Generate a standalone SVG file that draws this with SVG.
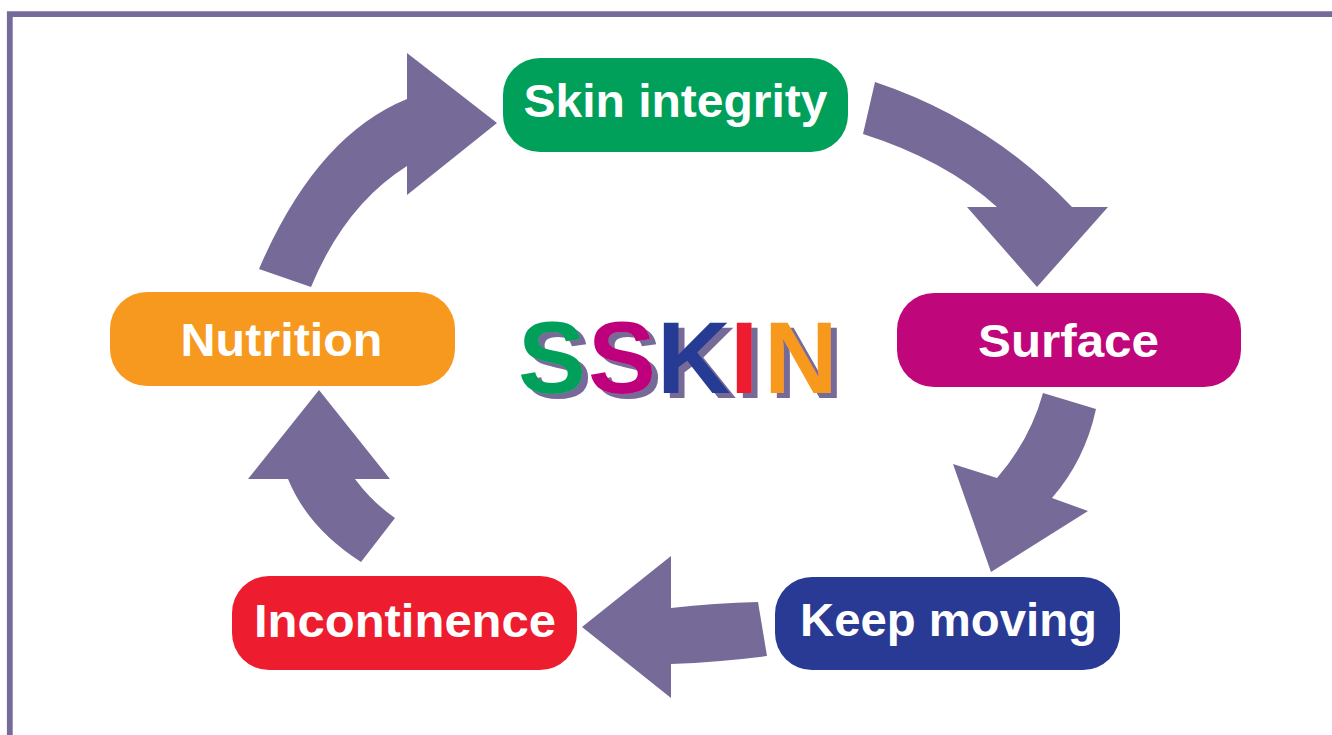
<svg xmlns="http://www.w3.org/2000/svg" width="1332" height="735" viewBox="0 0 1332 735">
  <defs>
    <filter id="logo-shadow" x="-20%" y="-20%" width="140%" height="140%">
      <feFlood flood-color="#766a98" result="c"/>
      <feComposite in="c" in2="SourceAlpha" operator="in" result="s"/>
      <feOffset in="s" dx="6" dy="5" result="o"/>
      <feMerge>
        <feMergeNode in="o"/>
        <feMergeNode in="SourceGraphic"/>
      </feMerge>
    </filter>
  </defs>
  <style>
    .box-text { font-family: "Liberation Sans", Arial, sans-serif; font-weight: bold; font-size: 46px; fill: #ffffff; text-anchor: middle; }
    .arrow { fill: #766a98; }
    .logo { font-family: "Liberation Sans", Arial, sans-serif; font-weight: bold; font-size: 102px; }
  </style>
  <rect x="0" y="0" width="1332" height="735" fill="#ffffff"/>
  <path d="M9.8,735 V14.2 H1332" fill="none" stroke="#766a98" stroke-width="5.8"/>

  <g id="connectors">
    <path class="arrow" d="M259,269 Q316,136 407,99 L407,53 L497,123 L407,195 L407,166 Q345,205 311,287 Z"/>
    <path class="arrow" d="M875,82 Q989,120 1072,207 L1108,207 L1037,287 L967,207 L997,207 Q945,160 863,134 Z"/>
    <path class="arrow" d="M1043,393 L1096,409 Q1085,460 1052,498 L1088,511 L991,572 L953,464 L997,478 Q1030,440 1043,393 Z"/>
    <path class="arrow" d="M758,602 Q715,603 671,608 L671,556 L582,627 L671,698 L671,664 Q720,662 767,656 Z"/>
    <path class="arrow" d="M395,518 Q372,502 355,479 L390,479 L319,390 L248,479 L288,479 Q308,528 361,562 Z"/>
  </g>

  <g id="skin-integrity">
    <rect x="503" y="58" width="345" height="94" rx="37" fill="#00a05a"/>
    <text class="box-text" x="675.5" y="117" textLength="304" lengthAdjust="spacingAndGlyphs">Skin integrity</text>
  </g>
  <g id="surface">
    <rect x="897" y="293" width="344" height="94" rx="37" fill="#bf067b"/>
    <text class="box-text" x="1068.5" y="357" textLength="181" lengthAdjust="spacingAndGlyphs">Surface</text>
  </g>
  <g id="keep-moving">
    <rect x="775" y="577" width="345" height="93" rx="37" fill="#283a94"/>
    <text class="box-text" x="948.5" y="636" textLength="297" lengthAdjust="spacingAndGlyphs">Keep moving</text>
  </g>
  <g id="incontinence">
    <rect x="232" y="576" width="345" height="94" rx="37" fill="#ed1c2e"/>
    <text class="box-text" x="405" y="637" textLength="302" lengthAdjust="spacingAndGlyphs">Incontinence</text>
  </g>
  <g id="nutrition">
    <rect x="110" y="292" width="345" height="94" rx="37" fill="#f7991f"/>
    <text class="box-text" x="281.5" y="356" textLength="202" lengthAdjust="spacingAndGlyphs">Nutrition</text>
  </g>

  <g id="sskin-title" filter="url(#logo-shadow)">
    <text class="logo" x="518" y="393"><tspan fill="#00a05a">S</tspan><tspan fill="#bf067b" x="588">S</tspan><tspan fill="#283a94" x="657">K</tspan><tspan fill="#ed1c2e" x="730">I</tspan><tspan fill="#f7991f" x="764">N</tspan></text>
  </g>
</svg>
